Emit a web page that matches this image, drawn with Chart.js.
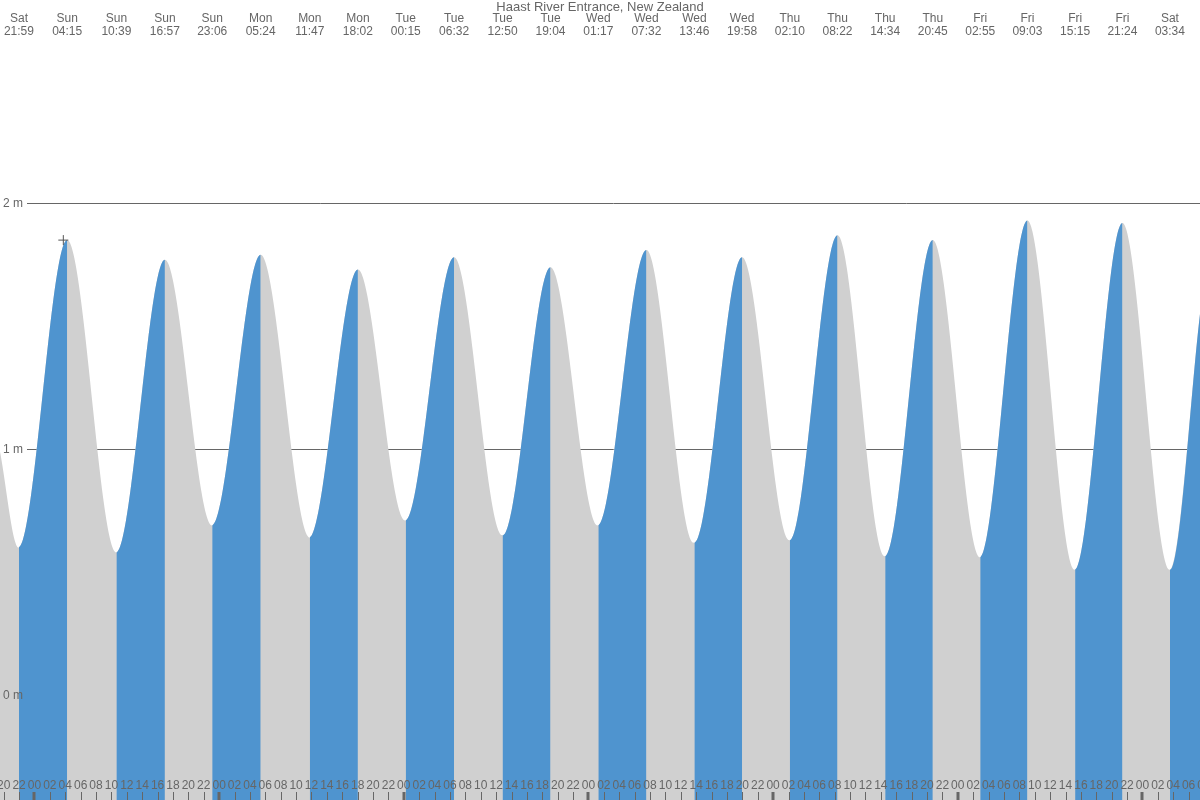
<!DOCTYPE html>
<html>
<head>
<meta charset="utf-8">
<title>Haast River Entrance tides</title>
<script src="https://cdn.jsdelivr.net/npm/chart.js@4/dist/chart.umd.min.js"></script>
<style>
  html, body { margin: 0; padding: 0; background: #fff; }
  canvas { display: block; }
</style>
</head>
<body>
<canvas id="tideChart" width="1200" height="800"></canvas>
<script>
// Tide extremes (hours counted from Sunday 00:00)
const tideDays    = ['Sat', 'Sun', 'Sun', 'Sun', 'Sun', 'Mon', 'Mon', 'Mon', 'Tue', 'Tue', 'Tue', 'Tue',
                     'Wed', 'Wed', 'Wed', 'Wed', 'Thu', 'Thu', 'Thu', 'Thu', 'Fri', 'Fri', 'Fri', 'Fri', 'Sat'];
const tideTimes   = ['21:59', '04:15', '10:39', '16:57', '23:06', '05:24', '11:47', '18:02', '00:15', '06:32', '12:50', '19:04',
                     '01:17', '07:32', '13:46', '19:58', '02:10', '08:22', '14:34', '20:45', '02:55', '09:03', '15:15', '21:24', '03:34'];
const tideHeights = [0.60, 1.85, 0.58, 1.77, 0.69, 1.79, 0.64, 1.73, 0.71, 1.78, 0.65, 1.74,
                     0.69, 1.81, 0.62, 1.78, 0.63, 1.87, 0.565, 1.85, 0.56, 1.93, 0.51, 1.92, 0.51];

// Visible window and the water level where the curve meets the edges
const hourMin = -4.48;
const hourMax = 151.48;
const edgeHeightLeft  = 0.99;
const edgeHeightRight = 1.55;

// Level axis and the "now" marker
const levelMin = -0.426;
const levelMax = 2.826;
const levelTicks = [0, 1, 2];
const nowHour = 3.75;
const nowHeight = 1.85;

const TITLE = 'Haast River Entrance, New Zealand';
const BLUE = '#4f94cf';
const GRAY = '#d0d0d0';
const TEXT = '#666666';
const FONT = '"Liberation Sans", Arial, sans-serif';

// Day counter: Saturday before the first Sunday is day -1
const tideHours = [];
let day = -1;
tideDays.forEach((d, i) => {
  if (i > 0 && d !== tideDays[i - 1]) day++;
  const [hh, mm] = tideTimes[i].split(':').map(Number);
  tideHours.push(day * 24 + hh + mm / 60);
});

const curve = [{ x: hourMin, y: edgeHeightLeft }]
  .concat(tideHours.map((h, i) => ({ x: h, y: tideHeights[i] })))
  .concat([{ x: hourMax, y: edgeHeightRight }]);

const overlay = {
  id: 'tideOverlay',
  beforeDatasetsDraw(chart) {
    const { ctx, scales: { y } } = chart;
    ctx.save();
    ctx.strokeStyle = TEXT;
    ctx.lineWidth = 1;
    levelTicks.forEach(v => {
      const py = Math.round(y.getPixelForValue(v)) + 0.5;
      ctx.beginPath();
      ctx.moveTo(27, py);
      ctx.lineTo(chart.width, py);
      ctx.stroke();
    });
    ctx.restore();
  },
  afterDatasetsDraw(chart) {
    const { ctx, scales: { x, y } } = chart;
    ctx.save();
    ctx.fillStyle = TEXT;
    ctx.textBaseline = 'middle';

    // title
    ctx.textAlign = 'center';
    ctx.font = '13px ' + FONT;
    ctx.fillText(TITLE, chart.width / 2, 7);

    ctx.font = '12px ' + FONT;

    // level labels
    ctx.textAlign = 'left';
    levelTicks.forEach(v => ctx.fillText(v + ' m', 3, y.getPixelForValue(v)));

    // high/low times
    ctx.textAlign = 'center';
    tideHours.forEach((h, i) => {
      const px = x.getPixelForValue(h);
      ctx.fillText(tideDays[i], px, 19);
      ctx.fillText(tideTimes[i], px, 32);
    });

    // hour labels and ticks along the bottom
    ctx.strokeStyle = TEXT;
    for (let h = Math.ceil(hourMin / 2) * 2; h <= hourMax + 2; h += 2) {
      const px = x.getPixelForValue(h);
      const hod = ((h % 24) + 24) % 24;
      ctx.fillText(String(hod).padStart(2, '0'), px, 786);
      ctx.lineWidth = hod === 0 ? 3 : 1;
      const tx = hod === 0 ? Math.round(px) : Math.round(px) + 0.5;
      ctx.beginPath();
      ctx.moveTo(tx, 792);
      ctx.lineTo(tx, 800);
      ctx.stroke();
    }
    ctx.restore();
  },
};

new Chart(document.getElementById('tideChart'), {
  type: 'line',
  data: {
    datasets: [
      {
        // now marker, on top
        type: 'scatter',
        data: [{ x: nowHour, y: nowHeight }],
        pointStyle: 'cross',
        pointRadius: 5,
        borderColor: '#555555',
        borderWidth: 1,
        order: 1,
      },
      {
        // rising tide: blue, falling segments left transparent
        data: curve,
        fill: 'start',
        cubicInterpolationMode: 'monotone',
        borderWidth: 0,
        borderColor: 'rgba(0,0,0,0)',
        backgroundColor: 'rgba(0,0,0,0)',
        pointRadius: 0,
        segment: {
          backgroundColor: c => c.p1.parsed.y > c.p0.parsed.y ? BLUE : 'rgba(0,0,0,0)',
        },
        order: 2,
      },
      {
        // whole water body in gray underneath
        data: curve,
        fill: 'start',
        cubicInterpolationMode: 'monotone',
        borderWidth: 0,
        borderColor: 'rgba(0,0,0,0)',
        backgroundColor: GRAY,
        pointRadius: 0,
        order: 3,
      },
    ],
  },
  options: {
    responsive: false,
    animation: false,
    events: [],
    layout: { padding: 0, autoPadding: false },
    plugins: { legend: { display: false }, tooltip: { enabled: false }, title: { display: false } },
    scales: {
      x: { type: 'linear', min: hourMin, max: hourMax, display: false },
      y: { min: levelMin, max: levelMax, display: false },
    },
  },
  plugins: [overlay],
});
</script>
</body>
</html>
